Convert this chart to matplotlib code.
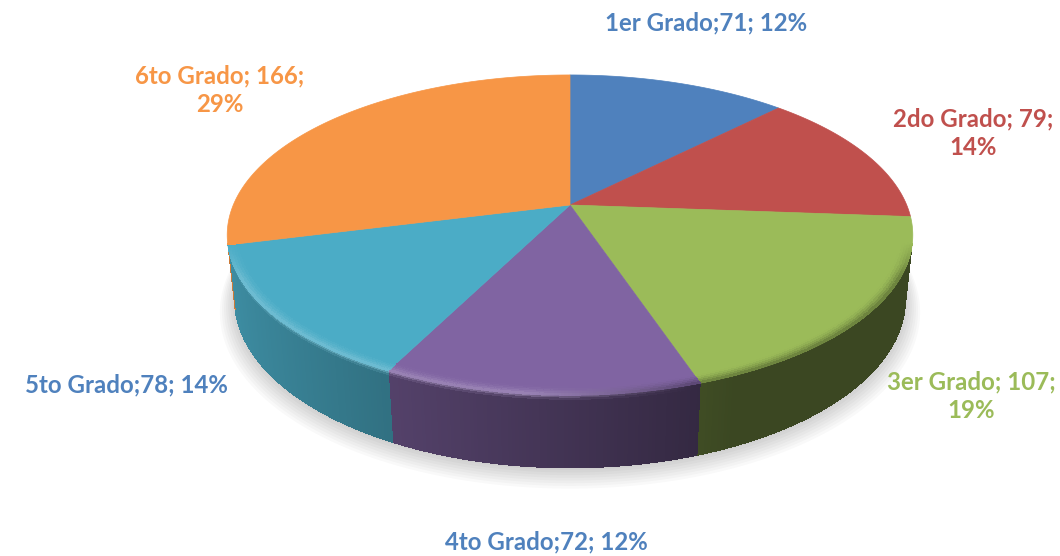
import numpy as np
import matplotlib
matplotlib.use("Agg")
import matplotlib.pyplot as plt
from matplotlib.collections import PolyCollection
from matplotlib.colors import to_rgb

# ---------------- data ----------------
categories = ["1er Grado", "2do Grado", "3er Grado", "4to Grado", "5to Grado", "6to Grado"]
values = [71, 79, 107, 72, 78, 166]
slice_colors = ["#4f81bd", "#c0504d", "#9bbb59", "#8064a2", "#4bacc6", "#f79646"]
label_texts = ["1er Grado;71; 12%", "2do Grado; 79;\n14%", "3er Grado; 107;\n19%",
               "4to Grado;72; 12%", "5to Grado;78; 14%", "6to Grado; 166;\n29%"]
label_colors = ["#4f81bd", "#c0504d", "#9bbb59", "#4f81bd", "#4f81bd", "#f79646"]
label_pos = [(706, 23), (973, 133), (971, 396), (546, 542), (126, 385), (220, 90)]

# ---------------- geometry (perspective 3D pie) ----------------
W, H = 1060, 556
cx, cy = 570.0, 205.0
F = 1595.0
Dist = 4.737
phi = np.radians(27.3)
sp, cp = np.sin(phi), np.cos(phi)
depth = 0.216


def proj(X, Y, Z):
    d = Dist + Y * cp - Z * sp
    u = Y * sp + Z * cp
    return cx + F * X / d, cy - F * u / d


def P(r, th, z):
    x, y = proj(r * np.sin(th), r * np.cos(th), z)
    return (x, y)


def mix(a, b, t):
    a = np.array(a); b = np.array(b)
    return tuple(np.clip(a + (b - a) * t, 0, 1))


def side_factor(X):
    return float(np.clip(0.82 - (X + 0.97) * 0.32, 0.38, 0.9))


total = float(sum(values))
bounds = np.concatenate([[0.0], np.cumsum(values) / total]) * 2 * np.pi

tv0 = np.arccos(-1.0 / (Dist * cp))
tv1 = 2 * np.pi - tv0
step = np.radians(0.5)

fig = plt.figure(figsize=(W / 100, H / 100), dpi=100)
ax = fig.add_axes([0, 0, 1, 1])
ax.set_xlim(0, W)
ax.set_ylim(H, 0)
ax.axis("off")

# ---------------- shadow ----------------
ths = np.linspace(tv0 - 0.3, tv1 + 0.3, 200)
for k in range(8):
    rr = 1.0 + 0.006 * k
    pts = [P(rr, t, -depth) for t in ths]
    pts = [(x, y + 2 + 1.2 * k) for x, y in pts]
    top = [P(1.0, t, -depth * 0.5) for t in ths[::-1]]
    ax.add_patch(plt.Polygon(pts + top, closed=True, facecolor="#000000",
                             edgecolor="none", alpha=0.025, zorder=1))

# ---------------- sides ----------------
side_polys, side_cols = [], []
zb = [0.0, 0.02, 0.04, 0.07, 1.0]
for i in range(len(values)):
    a, b = max(bounds[i], tv0), min(bounds[i + 1], tv1)
    if b <= a:
        continue
    col = to_rgb(slice_colors[i])
    n = max(2, int(np.ceil((b - a) / step)))
    ts = np.linspace(a, b, n + 1)
    # antialiased underlay for smooth outline
    tm_all = 0.5 * (a + b)
    under = [P(1, t, 0) for t in ts] + [P(1, t, -depth) for t in ts[::-1]]
    ucol = tuple(np.array(col) * side_factor(np.sin(tm_all)))
    ax.add_patch(plt.Polygon(under, closed=True, facecolor=ucol, edgecolor="none", zorder=2))
    for j in range(n):
        t0, t1 = ts[j], ts[j + 1]
        tm = 0.5 * (t0 + t1)
        X = np.sin(tm)
        base = tuple(np.array(col) * side_factor(X))
        m = float(np.clip((X + 0.1) / 0.4, 0, 1))
        light = mix(col, (1, 1, 1), 0.28)
        edge = mix(light, base, m)
        for k in range(len(zb) - 1):
            z0, z1 = -zb[k] * depth, -zb[k + 1] * depth
            if k < len(zb) - 2:
                cc = mix(edge, base, (k + 0.5) / (len(zb) - 2))
            else:
                cc = base
            side_polys.append([P(1, t0, z0), P(1, t1, z0), P(1, t1, z1), P(1, t0, z1)])
            side_cols.append(cc)
ax.add_collection(PolyCollection(side_polys, facecolors=side_cols, edgecolors="none",
                                 linewidths=0, antialiaseds=False, zorder=2.5))

# ---------------- top faces ----------------
for i in range(len(values)):
    a, b = bounds[i], bounds[i + 1]
    n = max(2, int(np.ceil((b - a) / step)))
    ts = np.linspace(a, b, n + 1)
    pts = [P(0, 0, 0)] + [P(1, t, 0) for t in ts]
    ax.add_patch(plt.Polygon(pts, closed=True, facecolor=slice_colors[i],
                             edgecolor=slice_colors[i], linewidth=0.5, zorder=3))

# ---------------- bevel rim on top ----------------
rim_polys, rim_cols = [], []
rr = np.linspace(0.965, 1.0, 6)
fade_w = np.radians(12)
for i in range(len(values)):
    a, b = max(bounds[i], tv0), min(bounds[i + 1], tv1)
    if b <= a:
        continue
    col = to_rgb(slice_colors[i])
    n = max(2, int(np.ceil((b - a) / step)))
    ts = np.linspace(a, b, n + 1)
    for j in range(n):
        t0, t1 = ts[j], ts[j + 1]
        tm = 0.5 * (t0 + t1)
        X = np.sin(tm)
        fade = float(np.clip((tm - tv0) / fade_w, 0, 1) * np.clip((tv1 - tm) / fade_w, 0, 1))
        base = tuple(np.array(col) * side_factor(X))
        m = float(np.clip((X + 0.1) / 0.4, 0, 1))
        light = mix(col, (1, 1, 1), 0.22)
        dark = mix(col, base, 0.55)
        edge = mix(light, dark, m)
        for k in range(len(rr) - 1):
            w = ((k + 0.5) / (len(rr) - 1)) ** 1.6 * fade
            cc = mix(col, edge, w)
            rim_polys.append([P(rr[k], t0, 0), P(rr[k], t1, 0), P(rr[k + 1], t1, 0), P(rr[k + 1], t0, 0)])
            rim_cols.append(cc)
ax.add_collection(PolyCollection(rim_polys, facecolors=rim_cols, edgecolors="none",
                                 linewidths=0, antialiaseds=False, zorder=4))

# ---------------- labels ----------------
for txt, colr, (x, y) in zip(label_texts, label_colors, label_pos):
    ax.text(x, y, txt, color=colr, ha="center", va="center", fontsize=17.3,
            fontweight="bold", family=["Lato", "DejaVu Sans"], linespacing=1.3,
            multialignment="center", zorder=6)

fig.savefig("out.png", dpi=100)
